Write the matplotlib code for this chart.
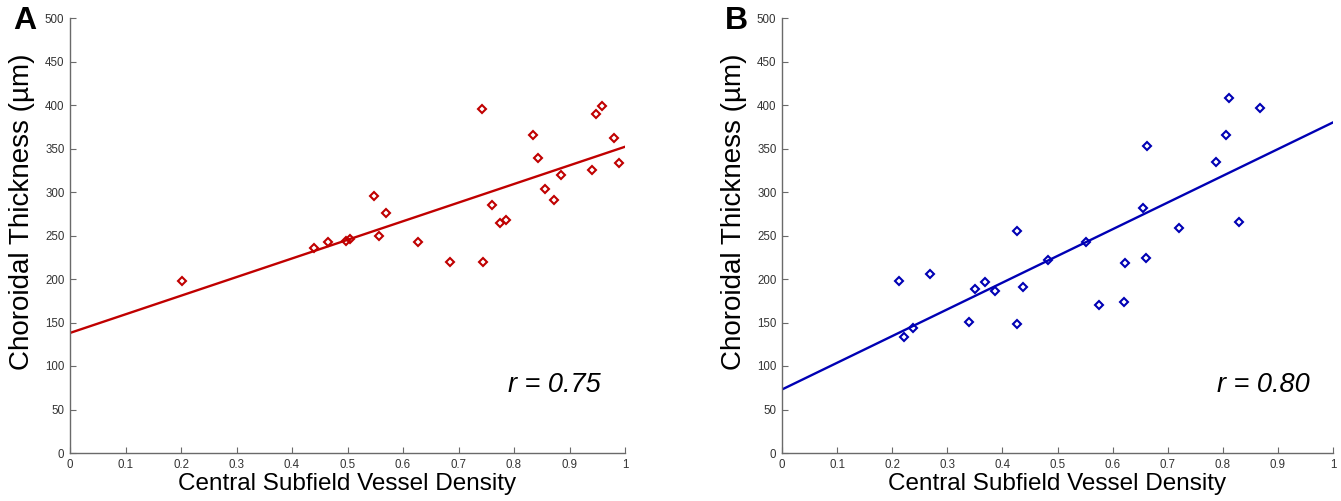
import numpy as np
import matplotlib.pyplot as plt

plt.rcParams['font.family'] = ['Liberation Sans', 'DejaVu Sans']

# panel A data (red)
xa = [0.202, 0.439, 0.464, 0.497, 0.504, 0.548, 0.556, 0.569, 0.627, 0.684,
      0.743, 0.745, 0.761, 0.774, 0.785, 0.834, 0.843, 0.856, 0.872, 0.885,
      0.941, 0.948, 0.958, 0.981, 0.990]
ya = [198, 236, 243, 244, 246, 295, 249, 276, 242, 220,
      395, 220, 285, 264, 268, 366, 339, 304, 291, 319,
      325, 390, 399, 362, 333]
fit_a = (214, 138)   # slope, intercept
r_a = "r = 0.75"

# panel B data (blue)
xb = [0.213, 0.222, 0.238, 0.268, 0.339, 0.351, 0.369, 0.387, 0.426, 0.426,
      0.437, 0.483, 0.551, 0.575, 0.620, 0.622, 0.655, 0.661, 0.663, 0.720,
      0.787, 0.806, 0.811, 0.829, 0.868]
yb = [198, 133, 144, 206, 151, 188, 196, 186, 255, 148,
      191, 222, 242, 170, 174, 218, 282, 224, 353, 259,
      334, 366, 408, 266, 397]
fit_b = (307, 73)
r_b = "r = 0.80"

xticks = [0, 0.1, 0.2, 0.3, 0.4, 0.5, 0.6, 0.7, 0.8, 0.9, 1]
xticklabels = ["0", "0.1", "0.2", "0.3", "0.4", "0.5", "0.6", "0.7", "0.8", "0.9", "1"]
yticks = list(range(0, 501, 50))

W, H = 1341, 501
fig = plt.figure(figsize=(W / 100, H / 100), dpi=100)

panels = [
    (70, 555, xa, ya, fit_a, r_a, "#c00000", "A"),
    (782, 551, xb, yb, fit_b, r_b, "#0000b4", "B"),
]

for left, width, xs, ys, fit, rtxt, col, tag in panels:
    ax = fig.add_axes([left / W, (H - 453) / H, width / W, 435 / H])
    xl = np.array([0, 1])
    ax.plot(xl, fit[0] * xl + fit[1], color=col, lw=1.7, zorder=2)
    ax.plot(xs, ys, 'D', ms=4, mfc='none', mec=col, mew=1.5, zorder=3)
    ax.set_xlim(0, 1)
    ax.set_ylim(0, 500)
    ax.set_xticks(xticks)
    ax.set_xticklabels(xticklabels)
    ax.set_yticks(yticks)
    for s in ['top', 'right']:
        ax.spines[s].set_visible(False)
    for s in ['left', 'bottom']:
        ax.spines[s].set_color('#6a6a6a')
        ax.spines[s].set_linewidth(1.0)
    ax.tick_params(direction='in', length=4, width=0.8, color='#6a6a6a',
                   labelsize=8.3, labelcolor='#333333', pad=4)
    ax.set_xlabel("Central Subfield Vessel Density", fontsize=17.5, labelpad=2)
    ax.set_ylabel("Choroidal Thickness (µm)", fontsize=20, labelpad=7,
                  y=(453 - 212) / 435)
    ax.text(0.957, 0.156, rtxt, transform=ax.transAxes, ha='right', va='center',
            fontsize=19.5, style='italic')
    fig.text((left - 57) / W, 1 - 21 / H, tag, fontsize=23, fontweight='bold',
             ha='left', va='center')

fig.savefig("out.png", dpi=100)
